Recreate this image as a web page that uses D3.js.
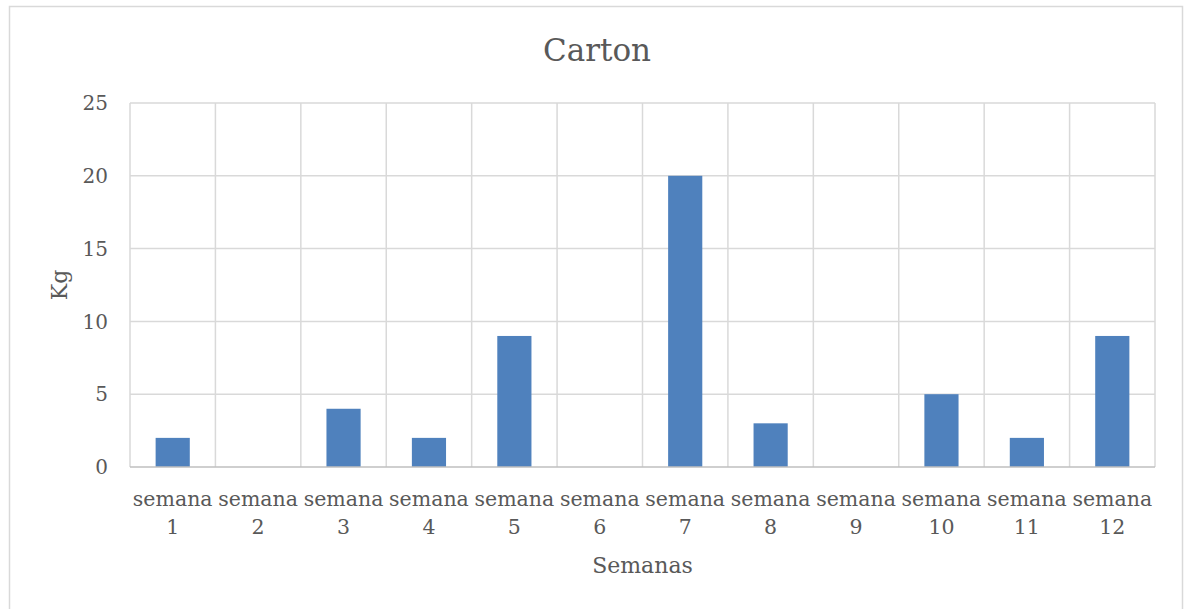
<!DOCTYPE html>
<html><head><meta charset="utf-8">
<script src="https://cdn.jsdelivr.net/npm/d3@7"></script>
<style>body{margin:0;background:#fff}svg{display:block}text{font-family:"DejaVu Serif",serif;fill:#595959}</style>
</head><body>
<svg id="c" width="1184" height="609"></svg>
<script>
const categories = ["semana 1","semana 2","semana 3","semana 4","semana 5","semana 6","semana 7","semana 8","semana 9","semana 10","semana 11","semana 12"];
const values = [2,0,4,2,9,0,20,3,0,5,2,9];
const yTicks = [0,5,10,15,20,25];
const title = "Carton", xTitle = "Semanas", yTitle = "Kg";

const svg = d3.select("#c");
const m = {l:130, r:1155, t:103, b:467};
svg.append("rect").attr("x",9.5).attr("y",6.5).attr("width",1173).attr("height",620)
  .attr("fill","#fff").attr("stroke","#d9d9d9").attr("stroke-width",1.5);

const x = d3.scaleBand().domain(categories).range([m.l,m.r]).paddingInner(0.6).paddingOuter(0.3);
const y = d3.scaleLinear().domain([0,25]).range([m.b,m.t]);

svg.append("g").selectAll("line").data(yTicks.filter(d=>d>0)).join("line")
  .attr("x1",m.l).attr("x2",m.r).attr("y1",d=>y(d)).attr("y2",d=>y(d))
  .attr("stroke","#d9d9d9").attr("stroke-width",1.5);
const bounds = d3.range(categories.length+1).map(i=>m.l + i*(m.r-m.l)/categories.length);
svg.append("g").selectAll("line").data(bounds).join("line")
  .attr("x1",d=>d).attr("x2",d=>d).attr("y1",m.t).attr("y2",m.b)
  .attr("stroke","#d9d9d9").attr("stroke-width",1.5);

svg.append("g").selectAll("rect").data(values).join("rect")
  .attr("x",(d,i)=>x(categories[i])).attr("width",x.bandwidth())
  .attr("y",d=>y(d)).attr("height",d=>y(0)-y(d)).attr("fill","#4f81bd");

svg.append("line").attr("x1",m.l).attr("x2",m.r).attr("y1",m.b).attr("y2",m.b)
  .attr("stroke","#bfbfbf").attr("stroke-width",1.5);

svg.append("g").selectAll("text").data(yTicks).join("text")
  .attr("x",108).attr("y",d=>y(d)).attr("dy","0.36em").attr("text-anchor","end")
  .attr("font-size",20).text(d=>d);

const xl = svg.append("g").selectAll("text").data(categories).join("text")
  .attr("text-anchor","middle").attr("font-size",20.5);
xl.each(function(d){
  const parts = d.split(" ");
  const cx = x(d)+x.bandwidth()/2;
  d3.select(this).append("tspan").attr("x",cx).attr("y",506).text(parts[0]);
  d3.select(this).append("tspan").attr("x",cx).attr("y",534).text(parts[1]);
});

svg.append("text").attr("x",597).attr("y",61).attr("text-anchor","middle")
  .attr("font-size",31).text(title);
svg.append("text").attr("x",(m.l+m.r)/2).attr("y",573).attr("text-anchor","middle")
  .attr("font-size",22).text(xTitle);
svg.append("text").attr("transform","translate(67,285) rotate(-90)").attr("text-anchor","middle")
  .attr("font-size",22).text(yTitle);
</script>
</body></html>
